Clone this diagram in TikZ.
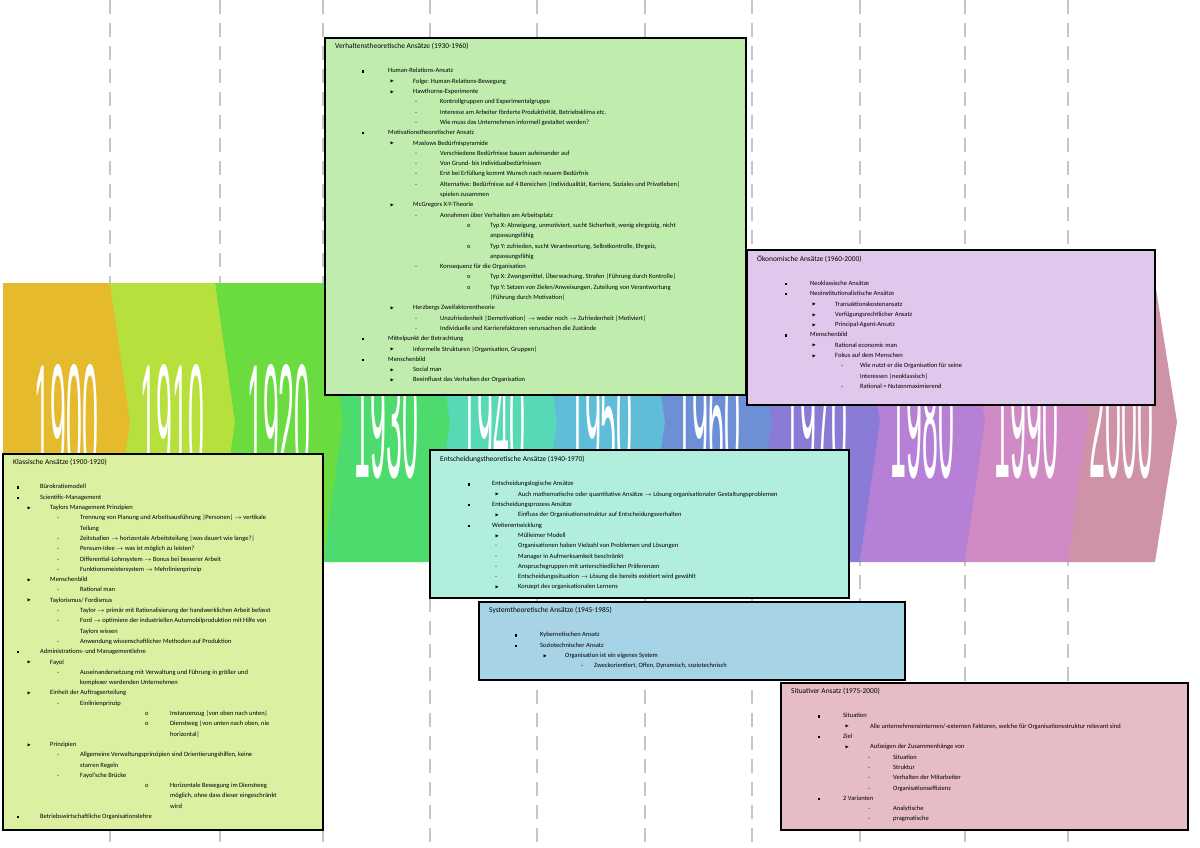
\documentclass[tikz,border=0pt]{standalone}
\usepackage{fontspec}
\setmainfont{Carlito}
\newfontfamily\yearfont{Liberation Sans}
\usepackage{amssymb}

\definecolor{yrA}{HTML}{E5BA2C}
\definecolor{yrB}{HTML}{B6E03C}
\definecolor{yrC}{HTML}{6BDC40}
\definecolor{yrD}{HTML}{4DDB6E}
\definecolor{yrE}{HTML}{56D9B4}
\definecolor{yrF}{HTML}{60BDD8}
\definecolor{yrG}{HTML}{6C8FD6}
\definecolor{yrH}{HTML}{8A7BD6}
\definecolor{yrI}{HTML}{B680D6}
\definecolor{yrJ}{HTML}{D08AC4}
\definecolor{yrK}{HTML}{CF93A8}
\definecolor{boxVerh}{HTML}{C0EDAE}
\definecolor{boxKlass}{HTML}{DCF0A2}
\definecolor{boxEnt}{HTML}{B2EEDD}
\definecolor{boxOek}{HTML}{E0C8EC}
\definecolor{boxSys}{HTML}{A6D4E6}
\definecolor{boxSit}{HTML}{E6BCC6}

% one list line: marker offset, text offset, marker, text
\newcommand{\li}[4]{\hspace*{#1pt}\makebox[\dimexpr#2pt-#1pt\relax][l]{#3}#4}
\newcommand{\sq}{\rule[0.4pt]{2.2pt}{2.2pt}}
\newcommand{\tri}{\raisebox{0.3pt}{\scalebox{0.7}{$\blacktriangleright$}}}
\newcommand{\ar}{$\rightarrow$}
\newcommand{\ttl}[1]{\hspace*{10pt}{\fontsize{7.4}{10.3}\selectfont #1}\\[14pt]}

\tikzset{
  panel/.style = {draw=black, line width=1.6pt},
  listtxt/.style = {anchor=north west, inner sep=0pt, align=left, font=\fontsize{6.5}{10.3}\selectfont},
  yearlbl/.style = {white, font=\yearfont\fontsize{30}{30}\selectfont, yscale=5.4, xscale=0.95},
}

\begin{document}
\begin{tikzpicture}[x=1pt, y=-1pt]
		\useasboundingbox (0,0) rectangle (1200,848);
		\fill[white] (0,0) rectangle (1200,848);
		% dashed year lines
		\foreach \xx in {110,220,323,430,537,645,752,860,965,1068}
			\draw[gray!45, line width = 2.5pt, dash pattern = on 14pt off 9pt] (\xx,0) -- (\xx,848);
		% timeline band
		\foreach \a/\b/\col/\yr/\n in {3/110/yrA/1900/0, 110/215/yrB/1910/20, 215/323/yrC/1920/20,
			323/430/yrD/1930/20, 430/537/yrE/1940/20, 537/645/yrF/1950/20, 645/752/yrG/1960/20,
			752/860/yrH/1970/20, 860/965/yrI/1980/20, 965/1068/yrJ/1990/20, 1068/1155/yrK/2000/20}
		{
			\fill[\col] (\a,283) -- (\b,283) -- (\b+22,422) -- (\b,562) -- (\a,562) -- (\a+\n,422) -- cycle;
			\node[yearlbl] (y\yr) at ({(\a+\b)/2+10},422) {\yr};
		}
		% Klassische Ansaetze
		\draw[panel, fill = boxKlass] (3,454) rectangle (323,830);
		\node[listtxt] (klass) at (3,459) {\ttl{Klassische Ansätze (1900-1920)}
			\li{14}{37}{\sq}{Bürokratiemodell}\\
			\li{14}{37}{\sq}{Scientific-Management}\\
			\li{24}{47}{\tri}{Taylors Management Prinzipien}\\
			\li{54}{77}{-}{Trennung von Planung und Arbeitsausführung |Personen| \ar{} vertikale}\\
			\li{54}{77}{}{Teilung}\\
			\li{54}{77}{-}{Zeitstudien \ar{} horizontale Arbeitsteilung |was dauert wie lange?|}\\
			\li{54}{77}{-}{Pensum-Idee \ar{} was ist möglich zu leisten?}\\
			\li{54}{77}{-}{Differential-Lohnsystem \ar{} Bonus bei besserer Arbeit}\\
			\li{54}{77}{-}{Funktionsmeistersystem \ar{} Mehrlinienprinzip}\\
			\li{24}{47}{\tri}{Menschenbild}\\
			\li{54}{77}{-}{Rational man}\\
			\li{24}{47}{\tri}{Taylorismus/ Fordismus}\\
			\li{54}{77}{-}{Taylor \ar{} primär mit Rationalisierung der handwerklichen Arbeit befasst}\\
			\li{54}{77}{-}{Ford \ar{} optimiere der industriellen Automobilproduktion mit Hilfe von}\\
			\li{54}{77}{}{Taylors wissen}\\
			\li{54}{77}{-}{Anwendung wissenschaftlicher Methoden auf Produktion}\\
			\li{14}{37}{\sq}{Administrations- und Managementlehre}\\
			\li{24}{47}{\tri}{Fayol}\\
			\li{54}{77}{-}{Auseinandersetzung mit Verwaltung und Führung in größer und}\\
			\li{54}{77}{}{komplexer werdenden Unternehmen}\\
			\li{24}{47}{\tri}{Einheit der Auftragserteilung}\\
			\li{54}{77}{-}{Einlinienprinzip}\\
			\li{142}{167}{o}{Instanzenzug |von oben nach unten|}\\
			\li{142}{167}{o}{Dienstweg |von unten nach oben, nie}\\
			\li{142}{167}{}{horizontal|}\\
			\li{24}{47}{\tri}{Prinzipien}\\
			\li{54}{77}{-}{Allgemeine Verwaltungsprinzipien sind Orientierungshilfen, keine}\\
			\li{54}{77}{}{starren Regeln}\\
			\li{54}{77}{-}{Fayol'sche Brücke}\\
			\li{142}{167}{o}{Horizontale Bewegung im Dienstweg}\\
			\li{142}{167}{}{möglich, ohne dass dieser eingeschränkt}\\
			\li{142}{167}{}{wird}\\
			\li{14}{37}{\sq}{Betriebswirtschaftliche Organisationslehre}};
		% Verhaltenstheoretische Ansaetze
		\draw[panel, fill = boxVerh] (325,38) rectangle (746,395);
		\node[listtxt] (verh) at (325,43) {\ttl{Verhaltenstheoretische Ansätze (1930-1960)}
			\li{37}{63}{\sq}{Human-Relations-Ansatz}\\
			\li{65}{88}{\tri}{Folge: Human-Relations-Bewegung}\\
			\li{65}{88}{\tri}{Hawthorne-Experimente}\\
			\li{90}{115}{-}{Kontrollgruppen und Experimentalgruppe}\\
			\li{90}{115}{-}{Interesse am Arbeiter förderte Produktivität, Betriebsklima etc.}\\
			\li{90}{115}{-}{Wie muss das Unternehmen informell gestaltet werden?}\\
			\li{37}{63}{\sq}{Motivationstheoretischer Ansatz}\\
			\li{65}{88}{\tri}{Maslows Bedürfnispyramide}\\
			\li{90}{115}{-}{Verschiedene Bedürfnisse bauen aufeinander auf}\\
			\li{90}{115}{-}{Von Grund- bis Individualbedürfnissen}\\
			\li{90}{115}{-}{Erst bei Erfüllung kommt Wunsch nach neuem Bedürfnis}\\
			\li{90}{115}{-}{Alternative: Bedürfnisse auf 4 Bereichen |Individualität, Karriere, Soziales und Privatleben|}\\
			\li{90}{115}{}{spielen zusammen}\\
			\li{65}{88}{\tri}{McGregors X-Y-Theorie}\\
			\li{90}{115}{-}{Annahmen über Verhalten am Arbeitsplatz}\\
			\li{142}{165}{o}{Typ X: Abneigung, unmotiviert, sucht Sicherheit, wenig ehrgeizig, nicht}\\
			\li{142}{165}{}{anpassungsfähig}\\
			\li{142}{165}{o}{Typ Y: zufrieden, sucht Verantwortung, Selbstkontrolle, Ehrgeiz,}\\
			\li{142}{165}{}{anpassungsfähig}\\
			\li{90}{115}{-}{Konsequenz für die Organisation}\\
			\li{142}{165}{o}{Typ X: Zwangsmittel, Überwachung, Strafen |Führung durch Kontrolle|}\\
			\li{142}{165}{o}{Typ Y: Setzen von Zielen/Anweisungen, Zuteilung von Verantwortung}\\
			\li{142}{165}{}{|Führung durch Motivation|}\\
			\li{65}{88}{\tri}{Herzbergs Zweifaktorentheorie}\\
			\li{90}{115}{-}{Unzufriedenheit |Demotivation| \ar{} weder noch \ar{} Zufriedenheit |Motiviert|}\\
			\li{90}{115}{-}{Individuelle und Karrierefaktoren verursachen die Zustände}\\
			\li{37}{63}{\sq}{Mittelpunkt der Betrachtung}\\
			\li{65}{88}{\tri}{Informelle Strukturen |Organisation, Gruppen|}\\
			\li{37}{63}{\sq}{Menschenbild}\\
			\li{65}{88}{\tri}{Social man}\\
			\li{65}{88}{\tri}{Beeinflusst das Verhalten der Organisation}};
		% Oekonomische Ansaetze
		\draw[panel, fill = boxOek] (747,250) rectangle (1155,405);
		\node[listtxt] (oek) at (747,255) {\ttl{Ökonomische Ansätze (1960-2000)}
			\li{38}{63}{\sq}{Neoklassische Ansätze}\\
			\li{38}{63}{\sq}{Neoinstitutionalistische Ansätze}\\
			\li{65}{88}{\tri}{Transaktionskostenansatz}\\
			\li{65}{88}{\tri}{Verfügungsrechtlicher Ansatz}\\
			\li{65}{88}{\tri}{Principal-Agent-Ansatz}\\
			\li{38}{63}{\sq}{Menschenbild}\\
			\li{65}{88}{\tri}{Rational economic man}\\
			\li{65}{88}{\tri}{Fokus auf dem Menschen}\\
			\li{94}{113}{-}{Wie nutzt er die Organisation für seine}\\
			\li{94}{113}{}{Interessen |neoklassisch|}\\
			\li{94}{113}{-}{Rational = Nutzenmaximierend}};
		% Entscheidungstheoretische Ansaetze
		\draw[panel, fill = boxEnt] (430,450) rectangle (849,598);
		\node[listtxt] (ent) at (430,456) {\ttl{Entscheidungstheoretische Ansätze (1940-1970)}
			\li{38}{62}{\sq}{Entscheidungslogische Ansätze}\\
			\li{65}{88}{\tri}{Auch mathematische oder quantitative Ansätze \ar{} Lösung organisationaler Gestaltungsproblemen}\\
			\li{38}{62}{\sq}{Entscheidungsprozess Ansätze}\\
			\li{65}{88}{\tri}{Einfluss der Organisationsstruktur auf Entscheidungsverhalten}\\
			\li{38}{62}{\sq}{Weiterentwicklung}\\
			\li{65}{88}{\tri}{Mülleimer Modell}\\
			\li{65}{88}{-}{Organisationen haben Vielzahl von Problemen und Lösungen}\\
			\li{65}{88}{-}{Manager in Aufmerksamkeit beschränkt}\\
			\li{65}{88}{-}{Anspruchsgruppen mit unterschiedlichen Präferenzen}\\
			\li{65}{88}{-}{Entscheidungssituation \ar{} Lösung die bereits existiert wird gewählt}\\
			\li{65}{88}{\tri}{Konzept des organisationalen Lernens}};
		% Systemtheoretische Ansaetze
		\draw[panel, fill = boxSys] (479,602) rectangle (905,680);
		\node[listtxt] (sys) at (479,607) {\ttl{Systemtheoretische Ansätze (1945-1985)}
			\li{36}{61}{\sq}{Kybernetischen Ansatz}\\
			\li{36}{61}{\sq}{Soziotechnischer Ansatz}\\
			\li{64}{86}{\tri}{Organisation ist ein eigenes System}\\
			\li{102}{115}{-}{Zweckorientiert, Offen, Dynamisch, soziotechnisch}};
		% Situativer Ansatz
		\draw[panel, fill = boxSit] (781,683) rectangle (1188,830);
		\node[listtxt] (sit) at (781,688) {\ttl{Situativer Ansatz (1975-2000)}
			\li{37}{62}{\sq}{Situation}\\
			\li{64}{89}{\tri}{Alle unternehmensinternen/-externen Faktoren, welche für Organisationsstruktur relevant sind}\\
			\li{37}{62}{\sq}{Ziel}\\
			\li{64}{89}{\tri}{Aufzeigen der Zusammenhänge von}\\
			\li{87}{112}{-}{Situation}\\
			\li{87}{112}{-}{Struktur}\\
			\li{87}{112}{-}{Verhalten der Mitarbeiter}\\
			\li{87}{112}{-}{Organisationseffizienz}\\
			\li{37}{62}{\sq}{2 Varianten}\\
			\li{87}{112}{-}{Analytische}\\
			\li{87}{112}{-}{pragmatische}};
		\end{tikzpicture}
\end{document}
